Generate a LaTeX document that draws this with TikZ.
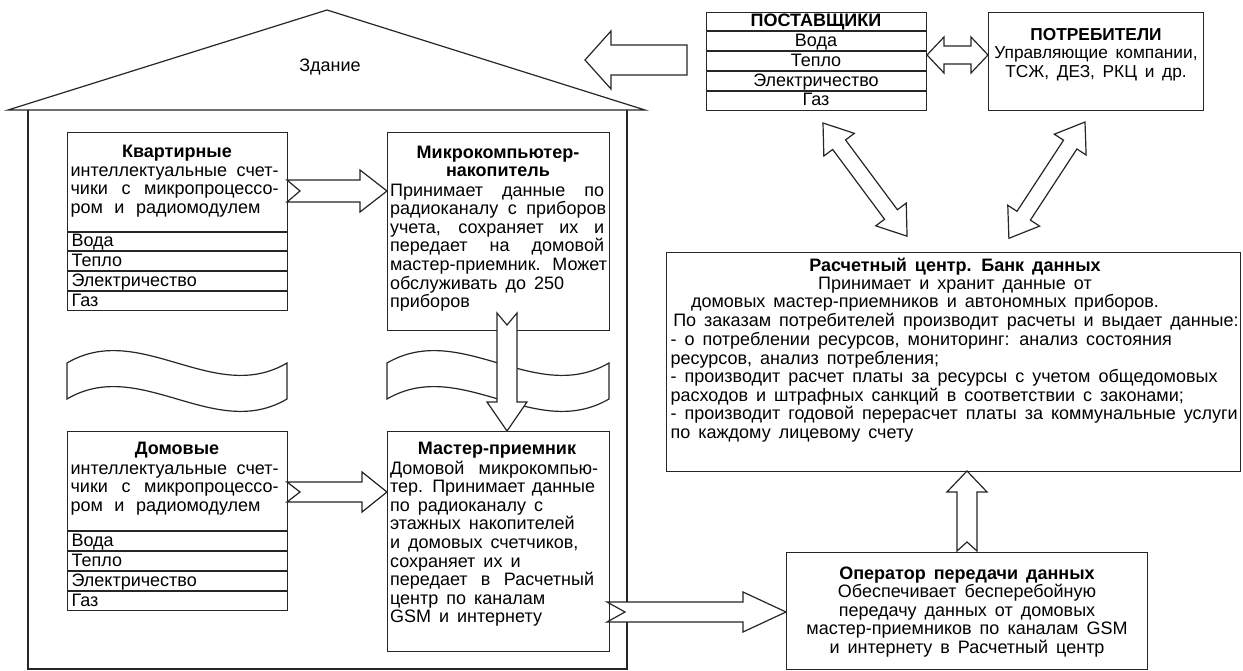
\documentclass[tikz,border=0pt]{standalone}
\usepackage{fontspec}
\setmainfont{Liberation Sans}[WordSpace=1.6]
\newcommand\jline[2]{\makebox[#1][s]{#2}}
\newcommand\fstrut{\rule{0pt}{15pt}}
\begin{document}
\begin{tikzpicture}[x=1pt,y=-1pt,
  line width=1.2pt, draw=black!85,
  every node/.style={inner sep=0pt, font=\fontsize{18}{18.6}\selectfont, text=black},
  boxst/.style={draw=black!85, line width=1.2pt, rectangle, anchor=north west, inner sep=0pt},
  blk/.style={draw=black!85, fill=white, line width=1.2pt, line join=miter},
  pics/sarrow/.style n args={5}{code={
    \draw[blk] (0,#2) -- ({#1-#4},#2) -- ({#1-#4},#3) -- (#1,0) -- ({#1-#4},-#3)
      -- ({#1-#4},-#2) -- (0,-#2) -- (#5,0) -- cycle;}},
  pics/darrow/.style n args={4}{code={
    \draw[blk] (0,0) -- (#4,#3) -- (#4,#2) -- ({#1-#4},#2) -- ({#1-#4},#3) -- (#1,0)
      -- ({#1-#4},-#3) -- ({#1-#4},-#2) -- (#4,-#2) -- (#4,-#3) -- cycle;}}
]
\useasboundingbox[fill=white] (0,0) rectangle (1243,671);

% ---------- house ----------
\coordinate (roofL) at (8,110);
\coordinate (roofT) at (327,10);
\coordinate (roofR) at (645,110);
\coordinate (wallLB) at (28,669);
\coordinate (wallRB) at (627,669);
\draw[line join=miter] (roofL) -- (roofT) -- (roofR) -- cycle;
\draw (28,110) -- (wallLB) -- (wallRB) -- (627,110);
\node[anchor=base] (bld) at (330,71.5) {Здание};

% ---------- waves ----------
\draw[fill=white] (67,363) .. controls (140,320) and (214,406) .. (287,363) -- (287,399)
  .. controls (214,442) and (140,356) .. (67,399) -- cycle;
\draw[fill=white] (387,363) .. controls (461,320) and (535,406) .. (609,363) -- (609,399)
  .. controls (535,442) and (461,356) .. (387,399) -- cycle;

% ---------- Квартирные ----------
\node[boxst, minimum width=220pt, minimum height=178pt] (kv) at (67,132) {};
\foreach \yy in {232,251,271,291} \draw (67,\yy) -- (287,\yy);
\node[anchor=base] (kvt) at (177,157.5) {\bfseries Квартирные};
\node[anchor=north west, align=left] (kvb) at (70,160.5) {\fstrut\jline{208pt}{интеллектуальные счет-}\\
  \jline{208pt}{чики с микропроцессо-}\\ \jline{190pt}{ром и радиомодулем}};
\node[anchor=base west] (kv1) at (71,247) {Вода};
\node[anchor=base west] (kv2) at (71,266.5) {Тепло};
\node[anchor=base west] (kv3) at (71,286.5) {Электричество};
\node[anchor=base west] (kv4) at (71,306) {Газ};

% ---------- Домовые ----------
\node[boxst, minimum width=220pt, minimum height=179pt] (dm) at (67,431) {};
\foreach \yy in {531,551,571,591} \draw (67,\yy) -- (287,\yy);
\node[anchor=base] (dmt) at (177,454.5) {\bfseries Домовые};
\node[anchor=north west, align=left] (dmb) at (70,458.5) {\fstrut\jline{208pt}{интеллектуальные счет-}\\
  \jline{208pt}{чики с микропроцессо-}\\ \jline{190pt}{ром и радиомодулем}};
\node[anchor=base west] (dm1) at (71,546.5) {Вода};
\node[anchor=base west] (dm2) at (71,566.5) {Тепло};
\node[anchor=base west] (dm3) at (71,586.5) {Электричество};
\node[anchor=base west] (dm4) at (71,606) {Газ};

% ---------- Микрокомпьютер ----------
\node[boxst, minimum width=222pt, minimum height=198pt] (mc) at (387,132) {};
\node[anchor=north, align=center] (mct) at (498,142.5) {\fstrut\bfseries Микрокомпьютер-\\ \bfseries накопитель};
\node[anchor=north west, align=left] (mcb) at (389.5,180.5) {\fstrut\jline{214pt}{Принимает данные по}\\
  \jline{216pt}{радиоканалу с приборов}\\ \jline{214pt}{учета, сохраняет их и}\\
  \jline{214pt}{передает на домовой}\\ \jline{217pt}{мастер-приемник. Может}\\
  обслуживать до 250\\ приборов};

% ---------- Мастер-приемник ----------
\node[boxst, minimum width=222pt, minimum height=220pt] (ms) at (387,431) {};
\node[anchor=base] (mst) at (497,454.5) {\bfseries Мастер-приемник};
\node[anchor=north west, align=left] (msb) at (389.5,458.5) {\fstrut\jline{208pt}{Домовой микрокомпью-}\\
  \jline{205pt}{тер. Принимает данные}\\ по радиоканалу с\\ этажных накопителей\\
  и домовых счетчиков,\\ сохраняет их и\\ \jline{204pt}{передает в Расчетный}\\
  центр по каналам\\ GSM и интернету};

% ---------- ПОСТАВЩИКИ ----------
\node[boxst, minimum width=220pt, minimum height=98pt] (sup) at (706,12) {};
\foreach \yy in {31,51,71,91} \draw (706,\yy) -- (926,\yy);
\node[anchor=base] (supt) at (816,27) {\bfseries ПОСТАВЩИКИ};
\node[anchor=base] (sup1) at (816,46.5) {Вода};
\node[anchor=base] (sup2) at (816,66.5) {Тепло};
\node[anchor=base] (sup3) at (816,86.5) {Электричество};
\node[anchor=base] (sup4) at (816,106) {Газ};

% ---------- ПОТРЕБИТЕЛИ ----------
\node[boxst, minimum width=215pt, minimum height=98pt] (con) at (988,12) {};
\node[anchor=north, align=center, font=\fontsize{17.3}{18.8}\selectfont] (cont) at (1096,24.5) {\fstrut\bfseries ПОТРЕБИТЕЛИ\\
  Управляющие компании,\\ ТСЖ, ДЕЗ, РКЦ и др.};

% ---------- Расчетный центр ----------
\node[boxst, minimum width=574pt, minimum height=219pt] (rc) at (666,252) {};
\node[anchor=north, align=center] (rct) at (955,255.5) {\fstrut\bfseries Расчетный центр. Банк данных\\
  Принимает и хранит данные от};
\node[anchor=base] (rc3) at (925,307.7) {домовых мастер-приемников и автономных приборов.};
\node[anchor=base] (rc4) at (956,326.3) {По заказам потребителей производит расчеты и выдает данные:};
\node[anchor=north west, align=left] (rcb) at (670,329.9) {\fstrut- о потреблении ресурсов, мониторинг: анализ состояния\\
  ресурсов, анализ потребления;\\
  - производит расчет платы за ресурсы с учетом общедомовых\\
  расходов и штрафных санкций в соответствии с законами;\\
  - производит годовой перерасчет платы за коммунальные услуги\\
  по каждому лицевому счету};

% ---------- Оператор ----------
\node[boxst, minimum width=361pt, minimum height=117pt] (op) at (786,552) {};
\node[anchor=north, align=center] (opt) at (967,563.5) {\fstrut\bfseries Оператор передачи данных\\
  Обеспечивает бесперебойную\\ передачу данных от домовых\\
  мастер-приемников по каналам GSM\\ и интернету в Расчетный центр};

% ---------- block arrows ----------
\coordinate (aSup) at (687,60);
\coordinate (aKv) at (287,191);
\coordinate (aDm) at (287,492);
\coordinate (aMc) at (507,313);
\coordinate (aMs) at (607,612);
\coordinate (aOp) at (967,551);
\coordinate (aSC) at (927,55);
\coordinate (aSR) at (823,123);
\coordinate (aCR) at (1085,122);
\pic[rotate=180] at (aSup) {sarrow={102}{15}{29}{26}{0}};
\pic at (aKv) {sarrow={100}{11}{21}{27}{13}};
\pic at (aDm) {sarrow={100}{10}{20}{25}{13}};
\pic[rotate=-90] at (aMc) {sarrow={118}{10}{20}{29}{12}};
\pic at (aMs) {sarrow={179}{10}{20}{43}{18}};
\pic[rotate=90] at (aOp) {sarrow={80}{10}{20}{21}{9}};
\pic at (aSC) {darrow={61}{9}{18}{17}};
\pic[rotate=-53.4] at (aSR) {darrow={141}{8}{19}{27}};
\pic[rotate=-123.2] at (aCR) {darrow={139}{8}{19}{27}};
\end{tikzpicture}
\end{document}
